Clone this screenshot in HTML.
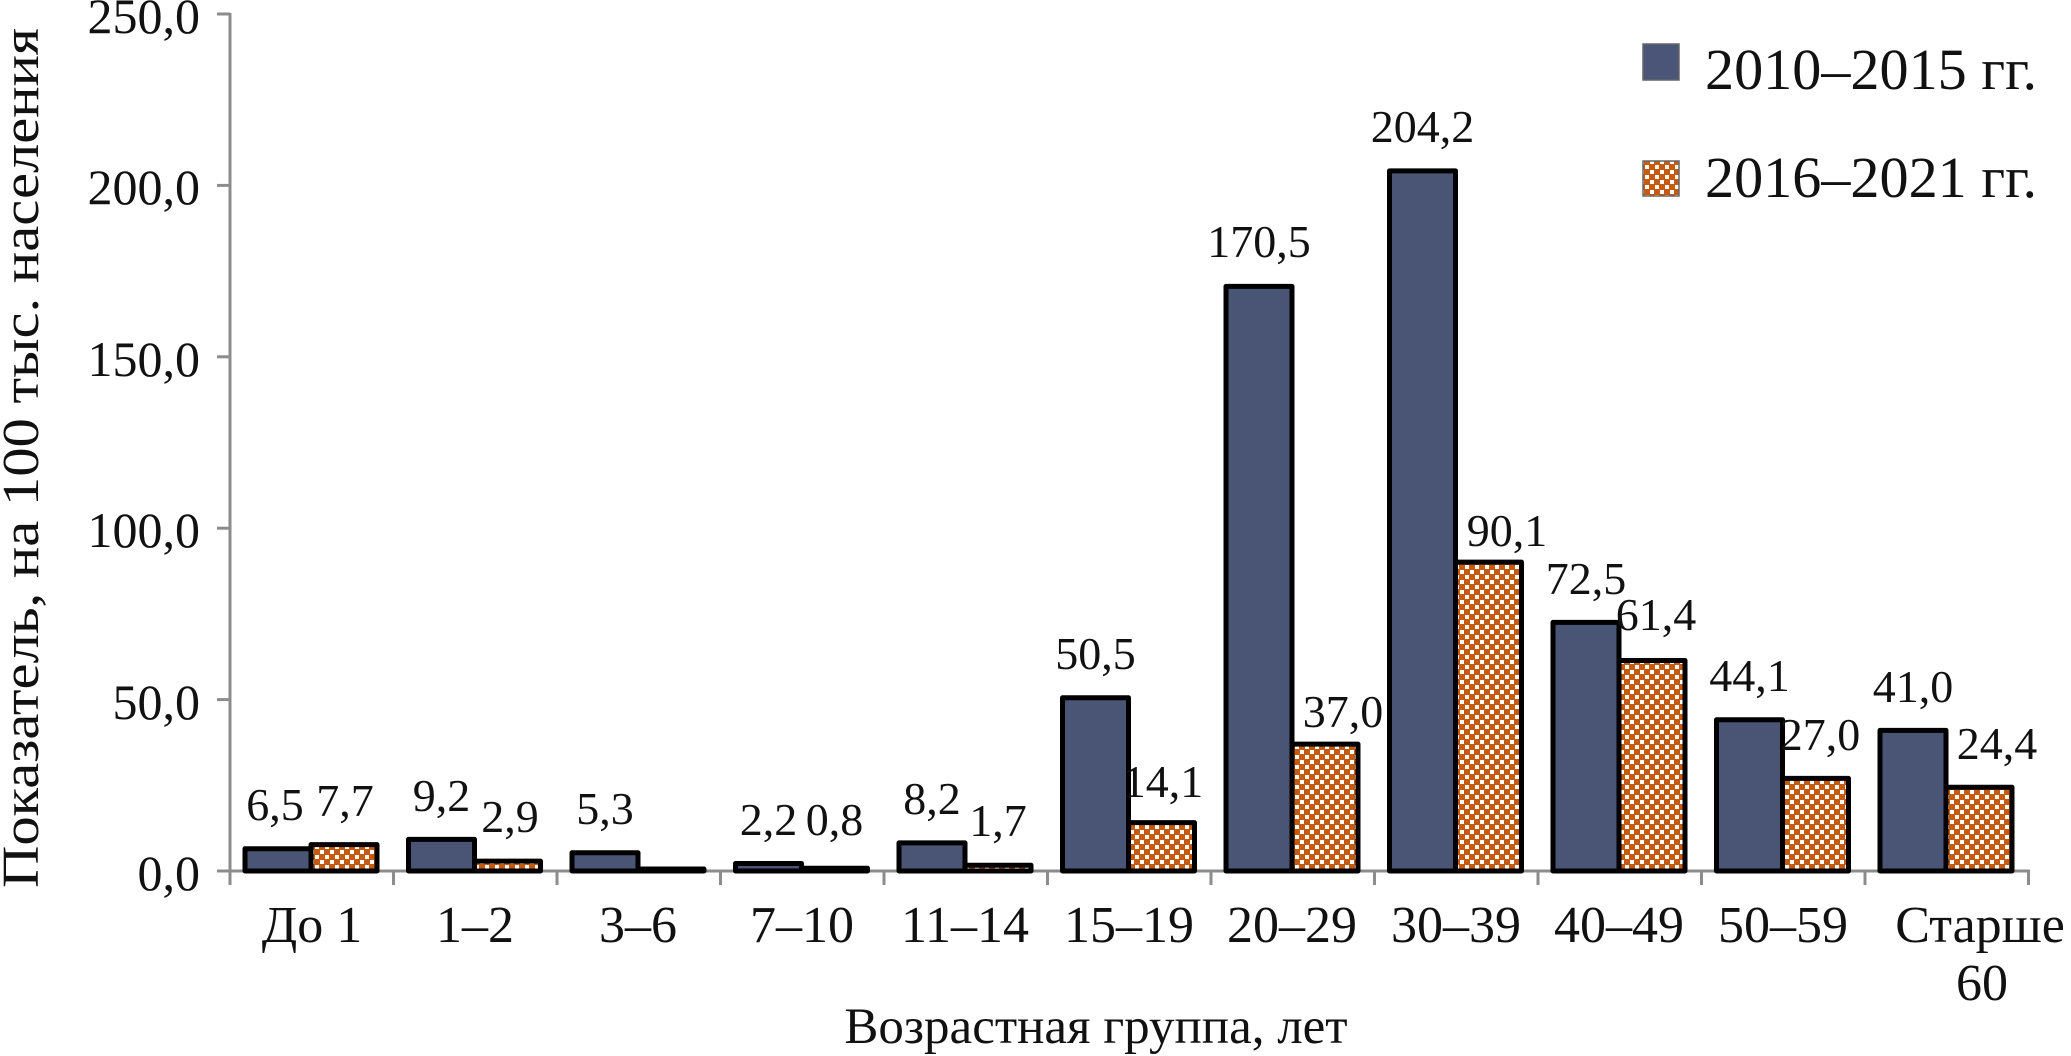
<!DOCTYPE html>
<html><head><meta charset="utf-8"><style>
html,body{margin:0;padding:0;background:#fff;}
svg{display:block;}
text{font-family:"Liberation Serif",serif;fill:#111;}
</style></head><body>
<svg width="2071" height="1056" viewBox="0 0 2071 1056" xmlns="http://www.w3.org/2000/svg">
<defs>
<pattern id="chk" width="10" height="10" patternUnits="userSpaceOnUse">
<rect width="10" height="10" fill="#c55a11"/>
<rect x="0" y="0" width="4" height="4" fill="#fff"/>
<rect x="5" y="5" width="4" height="4" fill="#fff"/>
</pattern>
</defs>
<g stroke="#8c8c8c" stroke-width="3" fill="none">
<line x1="230" y1="13" x2="230" y2="885"/>
<line x1="217" y1="871" x2="2030" y2="871"/>
<line x1="217" y1="14" x2="230" y2="14"/>
<line x1="217" y1="185.4" x2="230" y2="185.4"/>
<line x1="217" y1="356.8" x2="230" y2="356.8"/>
<line x1="217" y1="528.2" x2="230" y2="528.2"/>
<line x1="217" y1="699.6" x2="230" y2="699.6"/>
<line x1="393.5" y1="871" x2="393.5" y2="885"/>
<line x1="557" y1="871" x2="557" y2="885"/>
<line x1="720.5" y1="871" x2="720.5" y2="885"/>
<line x1="884" y1="871" x2="884" y2="885"/>
<line x1="1047.5" y1="871" x2="1047.5" y2="885"/>
<line x1="1211" y1="871" x2="1211" y2="885"/>
<line x1="1374.5" y1="871" x2="1374.5" y2="885"/>
<line x1="1538" y1="871" x2="1538" y2="885"/>
<line x1="1701.5" y1="871" x2="1701.5" y2="885"/>
<line x1="1865" y1="871" x2="1865" y2="885"/>
<line x1="2028.5" y1="871" x2="2028.5" y2="885"/>
</g>
<g font-size="50" text-anchor="end">
<text x="200" y="33">250,0</text>
<text x="200" y="204">200,0</text>
<text x="200" y="376">150,0</text>
<text x="200" y="547">100,0</text>
<text x="200" y="719">50,0</text>
<text x="200" y="890">0,0</text>
</g>
<g stroke="#000" stroke-width="5" stroke-linejoin="round">
<rect x="245" y="848.7" width="66" height="22.3" fill="#4a5576"/>
<rect x="311" y="844.6" width="66" height="26.4" fill="url(#chk)"/>
<rect x="408.5" y="839.4" width="66" height="31.6" fill="#4a5576"/>
<rect x="474.5" y="861.1" width="66" height="9.9" fill="url(#chk)"/>
<rect x="572" y="852.8" width="66" height="18.2" fill="#4a5576"/>
<rect x="638" y="869" width="66" height="2" fill="url(#chk)"/>
<rect x="735.5" y="863.5" width="66" height="7.5" fill="#4a5576"/>
<rect x="801.5" y="868.3" width="66" height="2.7" fill="url(#chk)"/>
<rect x="899" y="842.9" width="66" height="28.1" fill="#4a5576"/>
<rect x="965" y="865.2" width="66" height="5.8" fill="url(#chk)"/>
<rect x="1062.5" y="697.8" width="66" height="173.2" fill="#4a5576"/>
<rect x="1128.5" y="822.6" width="66" height="48.4" fill="url(#chk)"/>
<rect x="1226" y="286.4" width="66" height="584.6" fill="#4a5576"/>
<rect x="1292" y="744.1" width="66" height="126.9" fill="url(#chk)"/>
<rect x="1389.5" y="170.9" width="66" height="700.1" fill="#4a5576"/>
<rect x="1455.5" y="562.1" width="66" height="308.9" fill="url(#chk)"/>
<rect x="1553" y="622.4" width="66" height="248.6" fill="#4a5576"/>
<rect x="1619" y="660.5" width="66" height="210.5" fill="url(#chk)"/>
<rect x="1716.5" y="719.8" width="66" height="151.2" fill="#4a5576"/>
<rect x="1782.5" y="778.4" width="66" height="92.6" fill="url(#chk)"/>
<rect x="1880" y="730.4" width="66" height="140.6" fill="#4a5576"/>
<rect x="1946" y="787.3" width="66" height="83.7" fill="url(#chk)"/>
</g>
<g font-size="46" text-anchor="middle">
<text x="275" y="820">6,5</text>
<text x="345" y="816">7,7</text>
<text x="441.5" y="811">9,2</text>
<text x="510" y="832">2,9</text>
<text x="605" y="824">5,3</text>
<text x="768.5" y="835">2,2</text>
<text x="834.5" y="835">0,8</text>
<text x="932" y="814">8,2</text>
<text x="998" y="836">1,7</text>
<text x="1095.5" y="669">50,5</text>
<text x="1163" y="797">14,1</text>
<text x="1259" y="257">170,5</text>
<text x="1343" y="727">37,0</text>
<text x="1422.5" y="142">204,2</text>
<text x="1507" y="546">90,1</text>
<text x="1586" y="594">72,5</text>
<text x="1656" y="630">61,4</text>
<text x="1749.5" y="691">44,1</text>
<text x="1820" y="750">27,0</text>
<text x="1913" y="702">41,0</text>
<text x="1997" y="759">24,4</text>
</g>
<g font-size="52" text-anchor="middle">
<text x="312" y="942">До 1</text>
<text x="475" y="942">1–2</text>
<text x="638" y="942">3–6</text>
<text x="802" y="942">7–10</text>
<text x="965" y="942">11–14</text>
<text x="1129" y="942">15–19</text>
<text x="1292" y="942">20–29</text>
<text x="1456" y="942">30–39</text>
<text x="1619" y="942">40–49</text>
<text x="1783" y="942">50–59</text>
<text x="1980" y="942">Старше</text>
<text x="1982" y="1000">60</text>
</g>
<text x="1096" y="1043" font-size="51" text-anchor="middle">Возрастная группа, лет</text>
<text transform="translate(38,458) rotate(-90)" font-size="52" text-anchor="middle" textLength="860" lengthAdjust="spacingAndGlyphs">Показатель, на 100 тыс. населения</text>
<rect x="1643" y="44" width="36" height="36" fill="#4a5578" stroke="#666" stroke-width="1.5"/>
<rect x="1643" y="161" width="36" height="35" fill="url(#chk)" stroke="#666" stroke-width="1.5"/>
<text x="1705" y="89" font-size="58" textLength="332" lengthAdjust="spacingAndGlyphs">2010–2015 гг.</text>
<text x="1705" y="197" font-size="58" textLength="332" lengthAdjust="spacingAndGlyphs">2016–2021 гг.</text>
</svg>
</body></html>
